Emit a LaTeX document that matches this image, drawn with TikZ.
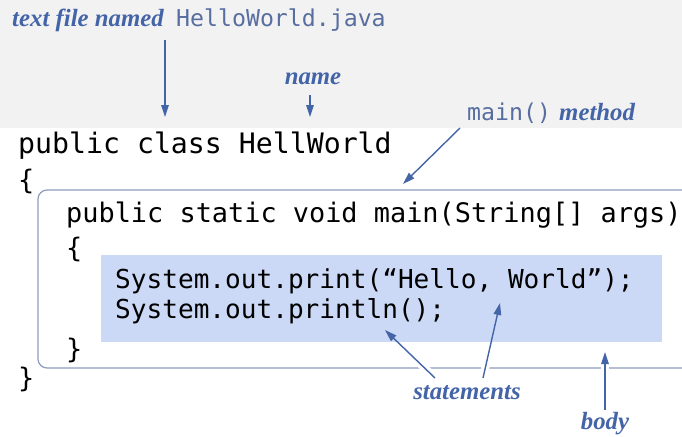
\documentclass[tikz,border=0pt]{standalone}
\usepackage{fontspec}
\usetikzlibrary{arrows.meta}

\newfontfamily\codefont{DejaVu Sans Mono}
\newfontfamily\tagfont{Liberation Serif}

\definecolor{tagblue}{RGB}{68,100,168}
\definecolor{codeblue}{RGB}{88,110,160}
\definecolor{filegray}{RGB}{242,242,242}
\definecolor{bodyfill}{RGB}{203,217,246}
\definecolor{boxline}{RGB}{140,156,188}

\begin{document}
\begin{tikzpicture}[x=1pt,y=-1pt,
    code/.style={anchor=base west, inner sep=0pt, font=\codefont\fontsize{26.9}{30}\selectfont},
    tag/.style={text=tagblue, inner sep=0pt, font=\tagfont\bfseries\itshape\fontsize{24.8}{28}\selectfont},
    tagcode/.style={text=codeblue, anchor=base west, inner sep=0pt, font=\codefont\fontsize{23.2}{26}\selectfont},
    pointer/.style={draw=tagblue, line width=1.4pt, -{Triangle[length=12pt,width=7.5pt]}},
    halo/.style={draw=white, line width=8pt}]

    \useasboundingbox (0,0) rectangle (682,436);

    % Drawing the file strip
    \fill[filegray] (0,0) rectangle (682,128);

    % Drawing the method frame and the body
    \draw[boxline, line width=1.2pt, rounded corners=9pt] (700,190) -- (38,190) -- (38,368) -- (700,368);
    \fill[bodyfill] (101,255) rectangle (662,342);

    % Drawing the code
    \node[code, font=\codefont\fontsize{28.2}{30}\selectfont] (classline) at (18,153) {public class HellWorld};
    \node[code] (openclass) at (18,189) {\{};
    \node[code] (mainline) at (66,222) {public static void main(String[] args)};
    \node[code] (openmain) at (66,257) {\{};
    \node[code, font=\codefont\fontsize{26.1}{30}\selectfont] (printline) at (115,288) {System.out.print(“Hello, World”);};
    \node[code, font=\codefont\fontsize{26.1}{30}\selectfont] (printlnline) at (115,318) {System.out.println();};
    \node[code] (closemain) at (66,358) {\}};
    \node[code] (closeclass) at (18,387) {\}};

    % Drawing the labels
    \node[tag, anchor=base west] (filetag) at (12,27) {text file named};
    \node[tagcode] (filename) at (176,27) {HelloWorld.java};
    \node[tag] (nametag) at (313,79) {name};
    \node[tagcode] (maincall) at (467,120) {main()};
    \node[tag, anchor=base west] (methodtag) at (559,120) {method};
    \node[tag] (stmttag) at (467,393) {statements};
    \node[tag] (bodytag) at (605,424) {body};

    % Arrow ends
    \coordinate (fileend) at (165,40);
    \coordinate (filetip) at (165,117);
    \coordinate (nameend) at (310,95);
    \coordinate (nametip) at (310,117);
    \coordinate (mainend) at (460,128);
    \coordinate (maintip) at (403,184);
    \coordinate (stmtendA) at (435,378);
    \coordinate (stmttipA) at (385,330);
    \coordinate (stmtendB) at (483,378);
    \coordinate (stmttipB) at (500,303);
    \coordinate (bodyend) at (605,410);
    \coordinate (bodytip) at (605,352);

    % Breaking the frame line where the arrows cross it
    \begin{scope}
        \clip (0,360) rectangle (682,376);
        \draw[halo] (stmtendA) -- (stmttipA);
        \draw[halo] (stmtendB) -- (stmttipB);
        \draw[halo] (bodyend) -- (bodytip);
    \end{scope}

    % Drawing the arrows
    \draw[pointer] (fileend) -- (filetip);
    \draw[pointer] (nameend) -- (nametip);
    \draw[pointer] (mainend) -- (maintip);
    \draw[pointer] (stmtendA) -- (stmttipA);
    \draw[pointer] (stmtendB) -- (stmttipB);
    \draw[pointer] (bodyend) -- (bodytip);
\end{tikzpicture}
\end{document}
